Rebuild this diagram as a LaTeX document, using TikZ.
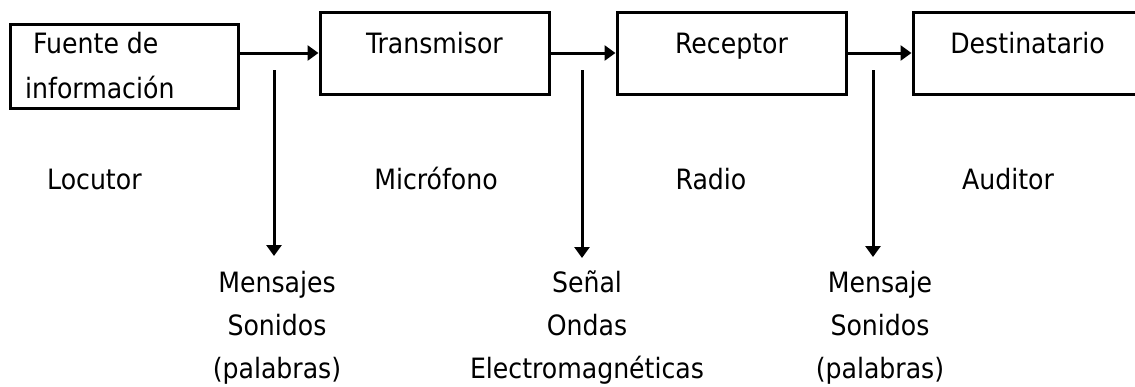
\documentclass[tikz,border=0pt]{standalone}
\usepackage{fontspec}
\setmainfont{DejaVu Sans Condensed}
\usetikzlibrary{arrows.meta}
\begin{document}
\begin{tikzpicture}[x=1pt,y=-1pt,
  box/.style={draw, line width=3pt, minimum width=229pt, minimum height=82pt, inner sep=0pt},
  txt/.style={font=\fontsize{28}{43}\selectfont, inner sep=0pt},
  conn/.style={line width=3pt, -{Triangle[length=11pt,width=15pt]}}]
\useasboundingbox (0,0) rectangle (1135,386);
% boxes
\node[box, minimum width=228pt, minimum height=84pt] (fuente) at (124,66) {};
\node[box] (tx) at (434.5,53) {};
\node[box] (rx) at (731.5,53) {};
\node[box] (dest) at (1027.5,53) {};
% box texts
\node[txt, align=left, anchor=base west, font=\fontsize{28}{45}\selectfont] (fuentetxt) at (25,98) {\hspace*{8pt}Fuente de\\información};
\node[txt, anchor=base] (txtxt) at (tx.center) {Transmisor};
\node[txt, anchor=base] (rxtxt) at (rx.center) {Receptor};
\node[txt, anchor=base] (desttxt) at (dest.center) {Destinatario};
% horizontal connectors
\draw[conn] (fuente.east |- tx.west) -- (tx.west);
\draw[conn] (tx.east) -- (rx.west);
\draw[conn] (rx.east) -- (dest.west);
% middle labels
\node[txt, anchor=base west] (locutor) at (47,189) {Locutor};
\node[txt, anchor=base] (microfono) at (436,189) {Micrófono};
\node[txt, anchor=base] (radio) at (711,189) {Radio};
\node[txt, anchor=base] (auditor) at (1008,189) {Auditor};
% bottom labels
\node[txt, align=center, anchor=base] (mensajes) at (277,378) {Mensajes\\Sonidos\\(palabras)};
\node[txt, align=center, anchor=base] (senal) at (587,378) {Señal\\Ondas\\Electromagnéticas};
\node[txt, align=center, anchor=base] (mensaje) at (880,378) {Mensaje\\Sonidos\\(palabras)};
% vertical connectors
\coordinate (a1) at (274,70);
\coordinate (a1e) at (274,256);
\coordinate (a2) at (582,70);
\coordinate (a2e) at (582,258);
\coordinate (a3) at (873,70);
\coordinate (a3e) at (873,257);
\draw[conn] (a1) -- (a1e);
\draw[conn] (a2) -- (a2e);
\draw[conn] (a3) -- (a3e);
\end{tikzpicture}
\end{document}
